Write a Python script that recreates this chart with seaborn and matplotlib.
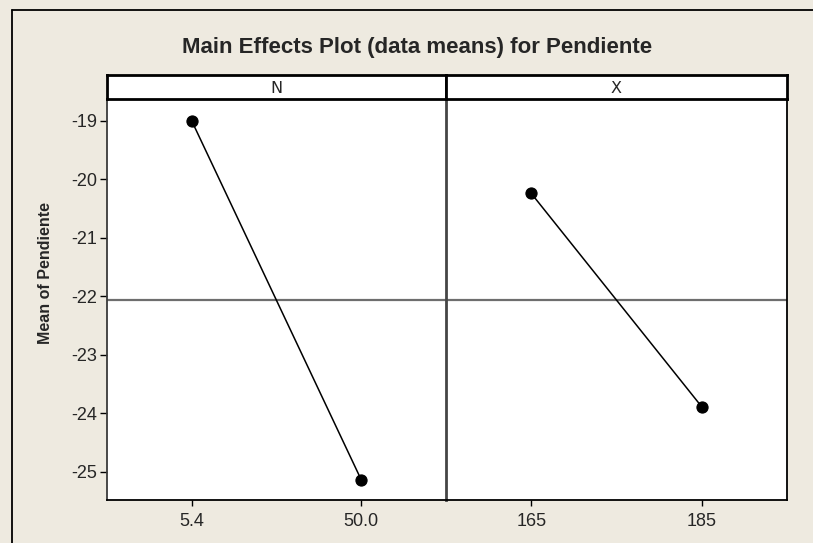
import matplotlib
matplotlib.use("Agg")
import matplotlib.pyplot as plt
from matplotlib.lines import Line2D
import numpy as np
import pandas as pd
import seaborn as sns

# Factor levels and mean response at each level
factors = ["N", "X"]
n_levels = ["5.4", "50.0"]
n_means = [-19.00, -25.14]
x_levels = ["165", "185"]
x_means = [-20.24, -23.89]
y_ticks = [-19, -20, -21, -22, -23, -24, -25]

title = "Main Effects Plot (data means) for Pendiente"
y_label = "Mean of Pendiente"

sns.set_theme(style="white")
plt.rcParams["font.family"] = ["Liberation Sans", "DejaVu Sans"]
plt.rcParams["axes.unicode_minus"] = False

BG = "#EEEAE0"
W, H = 813, 543
fig = plt.figure(figsize=(W / 100, H / 100), dpi=100, facecolor=BG)


def fx(px):
    return px / W


def fy(py):
    return 1 - py / H


left, mid, right = 107, 446, 787
top, bottom, strip_top = 98.7, 500.3, 75

panels = [
    (factors[0], n_levels, n_means, left, mid),
    (factors[1], x_levels, x_means, mid, right),
]
grand_mean = np.mean(n_means + x_means)

axes = []
for i, (name, levels, means, x0, x1) in enumerate(panels):
    ax = fig.add_axes([fx(x0), fy(bottom), fx(x1) - fx(x0), fy(top) - fy(bottom)])
    ax.set_facecolor("white")
    df = pd.DataFrame({"level": levels, "mean": means})
    sns.pointplot(data=df, x="level", y="mean", order=levels, ax=ax,
                  color="black", markers="o", errorbar=None,
                  markersize=8, linewidth=1.1, zorder=3)
    ax.axhline(grand_mean, color="#6E6E6E", lw=1.6, zorder=2)
    ax.set_xlim(-0.5, 1.5)
    ax.set_ylim(-25.49, -18.62)
    ax.set_xlabel("")
    ax.set_ylabel("")
    ax.tick_params(axis="x", direction="out", length=4.5, width=1,
                   color="black", labelsize=13, pad=5, bottom=True)
    for s in ax.spines.values():
        s.set_linewidth(1.3)
        s.set_color("black")
    ax.set_yticks(y_ticks)
    if i == 0:
        ax.set_yticklabels([str(t) for t in y_ticks])
        ax.tick_params(axis="y", direction="out", length=5, width=1,
                       color="black", labelsize=13, pad=2, left=True)
        ax.spines["left"].set_color("#3A3A3A")
        ax.spines["right"].set_visible(False)
    else:
        ax.tick_params(axis="y", left=False, labelleft=False)
        # divider between the two factor panels
        ax.spines["left"].set_color("#454545")
        ax.spines["left"].set_linewidth(2.0)
    axes.append(ax)

    # Facet header strip
    sax = fig.add_axes([fx(x0), fy(top), fx(x1) - fx(x0), fy(strip_top) - fy(top)])
    sax.set_facecolor("white")
    sax.set_xticks([])
    sax.set_yticks([])
    for s in sax.spines.values():
        s.set_linewidth(2)
        s.set_color("black")
    sax.text(0.5, 0.45, name, ha="center", va="center", fontsize=11.5,
             transform=sax.transAxes, family=["DejaVu Sans"])

fig.text(fx(417), fy(48), title, ha="center", va="center",
         fontsize=16, fontweight="bold")
fig.text(fx(46), fy(273), y_label, ha="center", va="center",
         rotation=90, fontsize=11.5, fontweight="bold")

# Window frame
fig.add_artist(Line2D([fx(12), fx(12)], [0, fy(10)], color="black", lw=1.3))
fig.add_artist(Line2D([fx(12), 1], [fy(10), fy(10)], color="black", lw=1.3))

fig.savefig("out.png", dpi=100, facecolor=BG)
